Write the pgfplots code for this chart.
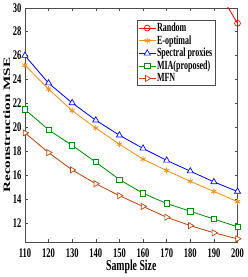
\documentclass[border=0pt]{standalone}
\usepackage{graphicx}
\usepackage{pgfplots}
\pgfplotsset{compat=1.18}
\usepackage{fontspec}
\setmainfont{Liberation Serif}
\definecolor{cor}{rgb}{0.93,0.57,0.13}
\definecolor{cgr}{rgb}{0.0,0.55,0.0}
\definecolor{cbr}{rgb}{0.72,0.27,0.05}
\newcommand\sbx[1]{\scalebox{1}[1.55]{#1}}
\newcommand\sbl[1]{\scalebox{1.55}[1]{#1}}
\begin{document}
\begin{tikzpicture}
\begin{axis}[
  scale only axis, width=216.5bp, height=239bp,
  xmin=110, xmax=200, ymin=10.4, ymax=30,
  xtick={110,120,...,200}, ytick={12,14,...,30},
  xticklabels={\sbx{110},\sbx{120},\sbx{130},\sbx{140},\sbx{150},\sbx{160},\sbx{170},\sbx{180},\sbx{190},\sbx{200}},
  yticklabels={\sbx{12},\sbx{14},\sbx{16},\sbx{18},\sbx{20},\sbx{22},\sbx{24},\sbx{26},\sbx{28},\sbx{30}},
  tick align=inside, major tick length=3pt, tick style={gray!60!black, thin},
  axis line style={gray!60!black},
  ticklabel style={font=\fontsize{8.7}{9}\selectfont\bfseries},
  xticklabel style={yshift=-2.5pt},
  xlabel={\sbx{\bfseries Sample Size}}, ylabel={\sbl{\bfseries Reconstruction MSE}},
  label style={font=\fontsize{10}{11}\selectfont},
  xlabel shift=-4pt, ylabel shift=-4pt,
  clip=true,
  legend style={at={(0.894,0.946)}, anchor=north east, font=\fontsize{8.2}{9}\selectfont\bfseries, draw=black!70, row sep=0.6pt, inner sep=1.5pt, nodes={inner sep=1pt}},
  legend cell align=left,
  every axis plot/.append style={line width=0.85pt},
]
\addplot[red, mark=o, mark size=3pt, mark options={line width=0.7pt, fill=white}] coordinates {(180,36) (190,32) (200,28.7)};
\addlegendentry{\sbx{Random}}
\addplot[cor, mark=asterisk, mark size=3pt, mark options={line width=0.9pt}] coordinates {(110,25.2) (120,23.2) (130,21.4) (140,19.95) (150,18.6) (160,17.35) (170,16.4) (180,15.5) (190,14.65) (200,13.8)};
\addlegendentry{\sbx{E-optimal}}
\addplot[blue, mark=triangle*, mark size=3.6pt, mark options={line width=0.7pt, fill=white}] coordinates {(110,26.0) (120,23.7) (130,22.05) (140,20.6) (150,19.35) (160,18.25) (170,17.25) (180,16.35) (190,15.45) (200,14.65)};
\addlegendentry{\sbx{Spectral proxies}}
\addplot[cgr, mark=square*, mark size=2.7pt, mark options={line width=0.7pt, fill=white}] coordinates {(110,21.5) (120,19.8) (130,18.5) (140,17.1) (150,15.65) (160,14.5) (170,13.65) (180,13.0) (190,12.35) (200,11.7)};
\addlegendentry{\sbx{MIA(proposed)}}
\addplot[cbr, mark=triangle*, mark size=3.6pt, mark options={rotate=-90, line width=0.7pt, fill=white}] coordinates {(110,19.55) (120,17.9) (130,16.45) (140,15.3) (150,14.3) (160,13.4) (170,12.5) (180,11.8) (190,11.2) (200,10.7)};
\addlegendentry{\sbx{MFN}}
\end{axis}
\end{tikzpicture}
\end{document}
